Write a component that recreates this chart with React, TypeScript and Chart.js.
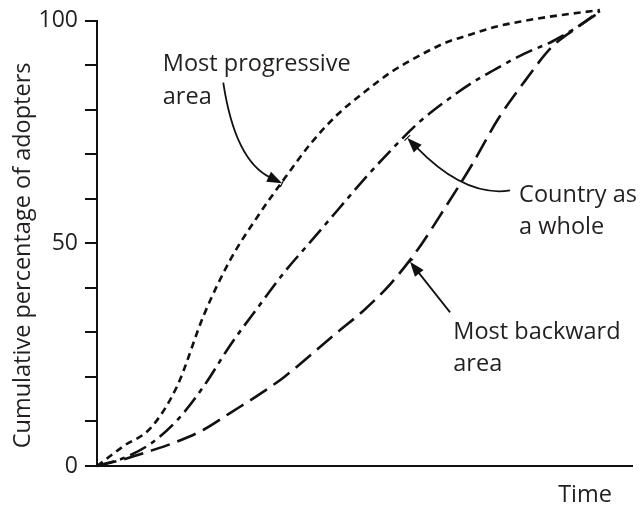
import React, { useEffect, useRef } from "react";
import { Chart, registerables } from "chart.js";

Chart.register(...registerables);

const timePoints = [0, 5, 10, 15, 20, 25, 30, 35, 40, 45, 50, 55, 60, 65, 70, 75, 80, 85, 90, 94];
const progressiveArea = [0, 4.5, 8.5, 18, 34, 46.5, 56, 64.5, 72.5, 79, 84, 88.5, 92, 95, 97, 98.8, 100, 101, 101.8, 102.4];
const countryAsWhole = [0, 1.8, 5, 10.3, 18, 27.3, 35.5, 43.5, 50.5, 57.5, 64.5, 71, 77, 81.8, 86, 89.5, 92.7, 95.3, 98.8, 102.2];
const backwardArea = [0, 1.5, 3.4, 5.5, 8.2, 12, 15.8, 20, 25, 30.1, 35.1, 41.1, 48.7, 57.9, 67.5, 78, 86.5, 94.1, 98.7, 102];
const yTickLabels: Record<number, string> = { 0: "0", 50: "50", 100: "100" };

const FONT = '"Open Sans", "Noto Sans", sans-serif';
const INK = "#231f20";

const annotationTexts = [
  { text: "Most progressive", x: 12.3, y: 88.8 },
  { text: "area", x: 12.3, y: 81.4 },
  { text: "Country as", x: 78.9, y: 59.2 },
  { text: "a whole", x: 78.9, y: 52.2 },
  { text: "Most backward", x: 66.6, y: 28.5 },
  { text: "area", x: 66.6, y: 21.3 },
  { text: "Time", x: 86.2, y: -8.1 },
];

const arrows = [
  { from: [23.6, 86.1], ctrl: [25.8, 68.6], to: [34.6, 63.5] },
  { from: [77.2, 61.9], ctrl: [68.8, 60.3], to: [58.0, 73.7] },
  { from: [66.0, 34.5], ctrl: [62.25, 40.2], to: [58.5, 45.9] },
];

const annotationPlugin = {
  id: "annotations",
  afterDraw(chart: any) {
    const { ctx, scales, chartArea } = chart;
    const X = (v: number) => scales.x.getPixelForValue(v);
    const Y = (v: number) => scales.y.getPixelForValue(v);
    ctx.save();
    ctx.fillStyle = INK;
    ctx.font = `23.5px ${FONT}`;
    ctx.textAlign = "left";
    ctx.textBaseline = "alphabetic";
    for (const t of annotationTexts) ctx.fillText(t.text, X(t.x), Y(t.y));

    // y title
    ctx.save();
    ctx.translate(chartArea.left - 74, (chartArea.top + chartArea.bottom) / 2 + 12);
    ctx.rotate(-Math.PI / 2);
    ctx.textAlign = "center";
    ctx.textBaseline = "middle";
    ctx.fillText("Cumulative percentage of adopters", 0, 0);
    ctx.restore();

    ctx.strokeStyle = "#111";
    ctx.lineWidth = 1.8;
    for (const a of arrows) {
      const sx = X(a.from[0]), sy = Y(a.from[1]);
      const cx = X(a.ctrl[0]), cy = Y(a.ctrl[1]);
      const tx = X(a.to[0]), ty = Y(a.to[1]);
      const ang = Math.atan2(ty - cy, tx - cx);
      const len = 15, hw = 5.5;
      const bx = tx - Math.cos(ang) * len, by = ty - Math.sin(ang) * len;
      ctx.beginPath();
      ctx.moveTo(sx, sy);
      ctx.quadraticCurveTo(cx, cy, bx + Math.cos(ang) * 2, by + Math.sin(ang) * 2);
      ctx.stroke();
      ctx.beginPath();
      ctx.moveTo(tx, ty);
      ctx.lineTo(bx + Math.sin(ang) * hw, by - Math.cos(ang) * hw);
      ctx.lineTo(bx - Math.sin(ang) * hw, by + Math.cos(ang) * hw);
      ctx.closePath();
      ctx.fillStyle = "#111";
      ctx.fill();
      // small cross mark on the curve at the arrow tip
      ctx.beginPath();
      ctx.moveTo(tx + Math.sin(ang) * 4, ty - Math.cos(ang) * 4);
      ctx.lineTo(tx - Math.sin(ang) * 4, ty + Math.cos(ang) * 4);
      ctx.lineWidth = 1.2;
      ctx.stroke();
      ctx.lineWidth = 1.8;
    }
    ctx.restore();
  },
};

export default function App() {
  const ref = useRef<HTMLCanvasElement>(null);
  useEffect(() => {
    if (!ref.current) return;
    const mk = (data: number[], dash: number[]) => ({
      data: timePoints.map((t, i) => ({ x: t, y: data[i] })),
      borderColor: "#111",
      borderWidth: 2.6,
      borderDash: dash,
      pointRadius: 0,
      fill: false,
      cubicInterpolationMode: "monotone" as const,
      clip: false as any,
    });
    const chart = new Chart(ref.current, {
      type: "line",
      data: {
        datasets: [
          { label: "Most progressive area", ...mk(progressiveArea, [7, 5]) },
          { label: "Country as a whole", ...mk(countryAsWhole, [18, 6, 5, 6]) },
          { label: "Most backward area", ...mk(backwardArea, [20, 8]) },
        ],
      },
      options: {
        animation: false,
        responsive: false,
        maintainAspectRatio: false,
        layout: { padding: { left: 0, top: 20, right: 8, bottom: 42 } },
        plugins: { legend: { display: false }, tooltip: { enabled: false } },
        scales: {
          x: {
            type: "linear",
            min: 0,
            max: 100,
            ticks: { display: false },
            grid: { display: false },
            border: { display: true, color: "#111", width: 2 },
            afterFit: (s: any) => { s.height = 0; },
          },
          y: {
            min: 0,
            max: 100,
            ticks: {
              stepSize: 10,
              padding: 7,
              color: INK,
              font: { size: 23, family: FONT },
              callback: (v: any) => yTickLabels[v as number] ?? "",
            },
            grid: { display: true, drawOnChartArea: false, drawTicks: true, tickLength: 12, color: "#111", lineWidth: 2 },
            border: { display: true, color: "#111", width: 2 },
            afterFit: (s: any) => { s.width = 97; },
          },
        },
      },
      plugins: [annotationPlugin],
    });
    return () => chart.destroy();
  }, []);
  return (
    <div style={{ position: "fixed", left: 0, top: 0, width: 640, height: 508, background: "#fff" }}>
      <canvas ref={ref} width={640} height={508} style={{ display: "block" }} />
    </div>
  );
}
